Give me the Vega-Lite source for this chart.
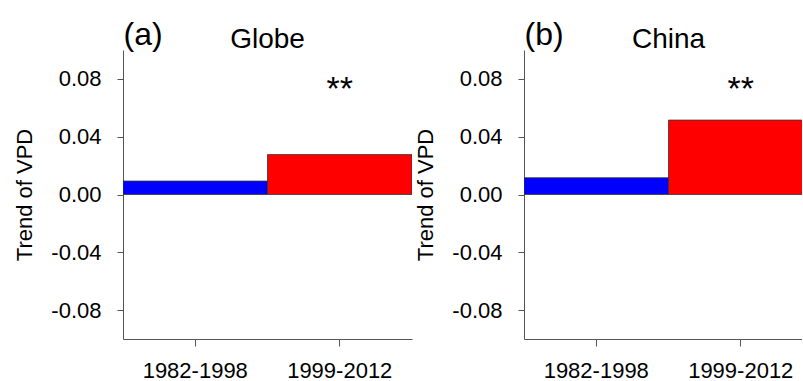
{
  "$schema": "https://vega.github.io/schema/vega-lite/v6.json",
  "background": "white",
  "autosize": {"type": "pad"},
  "padding": {"left": 12, "top": 18, "right": -11, "bottom": 0},
  "datasets": {
    "vpd": [
      {"region": "Globe", "panel": "(a)", "period": "1982-1998", "trend": 0.0093, "sig": ""},
      {"region": "Globe", "panel": "(a)", "period": "1999-2012", "trend": 0.0276, "sig": "**"},
      {"region": "China", "panel": "(b)", "period": "1982-1998", "trend": 0.0116, "sig": ""},
      {"region": "China", "panel": "(b)", "period": "1999-2012", "trend": 0.0515, "sig": "**"}
    ]
  },
  "spacing": 112,
  "bounds": "flush",
  "hconcat": [
    {
      "width": 289,
      "height": 289,
      "data": {"name": "vpd"},
      "transform": [{"filter": "datum.region === 'Globe'"}],
      "title": {"text": "Globe", "anchor": "middle", "frame": "group", "baseline": "alphabetic", "offset": 0, "dy": 58},
      "layer": [
        {
          "mark": {"type": "bar", "stroke": "#333333", "strokeWidth": 0.8, "clip": true},
          "encoding": {
            "x": {"field": "period", "type": "nominal", "sort": null,
              "scale": {"paddingInner": 0, "paddingOuter": 0},
              "axis": {"orient": "bottom", "title": null, "labelAngle": 0, "tickSize": 7, "labelPadding": 14, "labelFontSize": 22}},
            "y": {"field": "trend", "type": "quantitative",
              "scale": {"domain": [-0.1, 0.1], "nice": false, "zero": false},
              "axis": {"values": [-0.08, -0.04, 0, 0.04, 0.08], "labelExpr": "replace(format(datum.value, '.2f'), '\u2212', '-')",
                "tickSize": 6, "labelPadding": 16, "labelFontSize": 22,
                "title": "Trend of VPD", "titleFontSize": 22, "titleAngle": -90, "titleX": -92, "titleY": 144.5, "titleAlign": "center", "titleBaseline": "alphabetic"}},
            "color": {"field": "period", "type": "nominal", "scale": {"domain": ["1982-1998", "1999-2012"], "range": ["#0000ff", "#ff0000"]}, "legend": null}
          }
        },
        {
          "mark": {"type": "text", "fontSize": 34, "baseline": "alphabetic", "align": "center", "dy": 21, "color": "black"},
          "encoding": {
            "x": {"field": "period", "type": "nominal", "sort": null,
              "axis": {"orient": "top", "labels": false, "ticks": false, "domain": false, "title": "(a)", "titleFontSize": 32, "titleX": 0, "titleY": -6, "titleAlign": "left", "titleBaseline": "alphabetic", "titleAngle": 0}},
            "y": {"datum": 0.08},
            "text": {"field": "sig"}
          }
        }
      ],
      "resolve": {"axis": {"x": "independent"}}
    },
    {
      "width": 289,
      "height": 289,
      "data": {"name": "vpd"},
      "transform": [{"filter": "datum.region === 'China'"}],
      "title": {"text": "China", "anchor": "middle", "frame": "group", "baseline": "alphabetic", "offset": 0, "dy": 58},
      "layer": [
        {
          "mark": {"type": "bar", "stroke": "#333333", "strokeWidth": 0.8, "clip": true},
          "encoding": {
            "x": {"field": "period", "type": "nominal", "sort": null,
              "scale": {"paddingInner": 0, "paddingOuter": 0},
              "axis": {"orient": "bottom", "title": null, "labelAngle": 0, "tickSize": 7, "labelPadding": 14, "labelFontSize": 22}},
            "y": {"field": "trend", "type": "quantitative",
              "scale": {"domain": [-0.1, 0.1], "nice": false, "zero": false},
              "axis": {"values": [-0.08, -0.04, 0, 0.04, 0.08], "labelExpr": "replace(format(datum.value, '.2f'), '\u2212', '-')",
                "tickSize": 6, "labelPadding": 16, "labelFontSize": 22,
                "title": "Trend of VPD", "titleFontSize": 22, "titleAngle": -90, "titleX": -92, "titleY": 144.5, "titleAlign": "center", "titleBaseline": "alphabetic"}},
            "color": {"field": "period", "type": "nominal", "scale": {"domain": ["1982-1998", "1999-2012"], "range": ["#0000ff", "#ff0000"]}, "legend": null}
          }
        },
        {
          "mark": {"type": "text", "fontSize": 34, "baseline": "alphabetic", "align": "center", "dy": 21, "color": "black"},
          "encoding": {
            "x": {"field": "period", "type": "nominal", "sort": null,
              "axis": {"orient": "top", "labels": false, "ticks": false, "domain": false, "title": "(b)", "titleFontSize": 32, "titleX": 0, "titleY": -6, "titleAlign": "left", "titleBaseline": "alphabetic", "titleAngle": 0}},
            "y": {"datum": 0.08},
            "text": {"field": "sig"}
          }
        }
      ],
      "resolve": {"axis": {"x": "independent"}}
    }
  ],
  "config": {
    "font": "Liberation Sans",
    "view": {"stroke": null},
    "axis": {"grid": false, "domainColor": "#555555", "tickColor": "#555555", "domainWidth": 1, "tickWidth": 1, "labelColor": "black", "titleColor": "black", "titleFontWeight": "normal", "labelFont": "Liberation Sans", "titleFont": "Liberation Sans"},
    "title": {"fontSize": 28, "fontWeight": "normal", "color": "black", "font": "Liberation Sans"}
  }
}
